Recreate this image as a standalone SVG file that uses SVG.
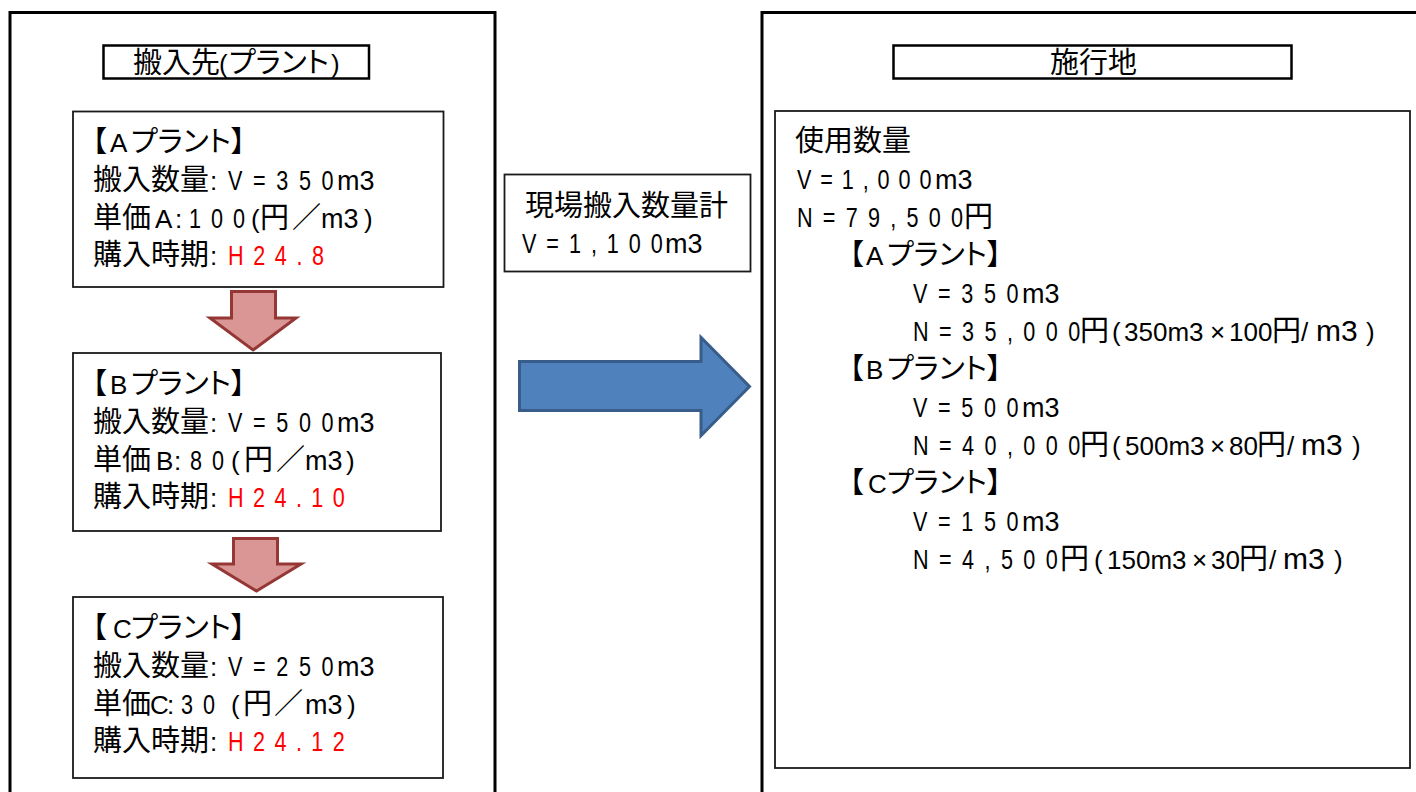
<svg xmlns="http://www.w3.org/2000/svg" width="1416" height="792" viewBox="0 0 1416 792">
<style>
.j{font-family:"Noto Sans CJK JP",sans-serif;font-size:29px;fill:#000}
.jp{font-family:"Noto Sans CJK JP",sans-serif;font-size:29px;fill:#000;font-feature-settings:"palt"}
.l{font-family:"Liberation Sans",sans-serif;font-size:27px;fill:#000}
.la{font-family:"Liberation Sans",sans-serif;font-size:26px}
.m{font-family:"Liberation Sans",sans-serif;font-size:27px;fill:#000}
.p{font-family:"Liberation Sans","Noto Sans CJK JP",sans-serif;font-size:26px;fill:#000}
.r{fill:#ff0000}
.frame{fill:#fff;stroke:#000;stroke-width:3}
.title{fill:#fff;stroke:#000;stroke-width:2.5}
.box{fill:#fff;stroke:#1a1a1a;stroke-width:1.8}
.down{fill:#d99694;stroke:#953735;stroke-width:3;stroke-linejoin:miter}
.right{fill:#4f81bd;stroke:#385d8a;stroke-width:3;stroke-linejoin:miter}
</style>
<rect width="1416" height="792" fill="#fff"/>

<g id="left-panel">
<rect class="frame" x="10" y="12.5" width="485" height="820"/>
</g>
<g id="left-title">
<rect class="title" x="103.5" y="45.5" width="265.5" height="33"/>
<text class="j" x="133" y="73">搬入先<tspan class="la" x="219">(</tspan><tspan class="jp" x="229">プラント</tspan><tspan class="la" x="331">)</tspan></text>
</g>

<g id="node-a">
<rect class="box" x="73" y="111.5" width="370.5" height="175.5"/>
<text class="jp" x="92" y="152">【<tspan class="la" x="110">A</tspan><tspan x="131">プラント】</tspan></text>
<text class="j" x="93" y="190">搬入数量<tspan class="la" x="210">:</tspan></text>
<text class="l" transform="translate(228,190) scale(0.8,1)" textLength="132">V=350</text>
<text class="m" x="337" y="190">m3</text>
<text class="j" x="93" y="228">単価<tspan class="la" x="155">A</tspan><tspan class="la" x="175">:</tspan></text>
<text class="l" transform="translate(189,228) scale(0.8,1)" textLength="70">100</text>
<text class="j" x="260" y="228"><tspan class="la" x="251">(</tspan><tspan x="260">円</tspan><tspan x="292">／</tspan></text>
<text class="m" x="321" y="228">m3<tspan class="la" x="364">)</tspan></text>
<text class="j" x="93" y="265">購入時期<tspan class="la" x="210">:</tspan></text>
<text class="l r" transform="translate(228,265) scale(0.8,1)" textLength="120">H24.8</text>
</g>

<g id="node-b">
<rect class="box" x="73" y="353" width="368" height="178"/>
<text class="jp" x="92" y="394">【<tspan class="la" x="110">B</tspan><tspan x="131">プラント】</tspan></text>
<text class="j" x="93" y="432">搬入数量<tspan class="la" x="210">:</tspan></text>
<text class="l" transform="translate(228,432) scale(0.8,1)" textLength="132">V=500</text>
<text class="m" x="337" y="432">m3</text>
<text class="j" x="93" y="470">単価<tspan class="la" x="156">B</tspan><tspan class="la" x="174">:</tspan></text>
<text class="l" transform="translate(190,470) scale(0.8,1)" textLength="42.5">80</text>
<text class="j" x="244" y="470"><tspan class="la" x="231">(</tspan><tspan x="244">円</tspan><tspan x="276">／</tspan></text>
<text class="m" x="305" y="470">m3<tspan class="la" x="346">)</tspan></text>
<text class="j" x="93" y="507">購入時期<tspan class="la" x="210">:</tspan></text>
<text class="l r" transform="translate(228,507) scale(0.8,1)" textLength="146">H24.10</text>
</g>

<g id="node-c">
<rect class="box" x="73" y="597" width="370" height="181"/>
<text class="jp" x="92" y="638">【<tspan class="la" x="113">C</tspan><tspan x="131">プラント】</tspan></text>
<text class="j" x="93" y="676">搬入数量<tspan class="la" x="210">:</tspan></text>
<text class="l" transform="translate(228,676) scale(0.8,1)" textLength="132">V=250</text>
<text class="m" x="337" y="676">m3</text>
<text class="j" x="93" y="714">単価<tspan class="la" x="150">C</tspan><tspan class="la" x="167">:</tspan></text>
<text class="l" transform="translate(181,714) scale(0.8,1)" textLength="42.5">30</text>
<text class="j" x="243" y="714"><tspan class="la" x="231">(</tspan><tspan x="243">円</tspan><tspan x="274">／</tspan></text>
<text class="m" x="305" y="714">m3<tspan class="la" x="347">)</tspan></text>
<text class="j" x="93" y="751">購入時期<tspan class="la" x="210">:</tspan></text>
<text class="l r" transform="translate(228,751) scale(0.8,1)" textLength="146">H24.12</text>
</g>

<g id="total-box">
<rect class="box" x="504.5" y="174.5" width="246" height="97" stroke-width="2"/>
<text class="j" x="525" y="216">現場搬入数量計</text>
<text class="l" transform="translate(522,253) scale(0.8,1)" textLength="176">V=1,100</text>
<text class="m" x="665" y="253" font-size="28">m3</text>
</g>

<g id="right-panel">
<rect class="frame" x="762" y="12.5" width="700" height="820"/>
</g>
<g id="right-title">
<rect class="title" x="893.5" y="45.5" width="398" height="33"/>
<text class="j" x="1050" y="73">施行地</text>
</g>

<g id="site-box">
<rect class="box" x="775" y="111" width="635" height="657"/>
<text class="j" x="795" y="151">使用数量</text>
<text class="l" transform="translate(797,189) scale(0.8,1)" textLength="168">V=1,000</text>
<text class="m" x="935" y="189" font-size="28">m3</text>
<text class="l" transform="translate(797,227) scale(0.8,1)" textLength="207.5">N=79,500</text>
<text class="j" x="964" y="227">円</text>

<text class="jp" x="849" y="265">【<tspan class="la" x="866">A</tspan><tspan x="887">プラント】</tspan></text>
<text class="l" transform="translate(913,303) scale(0.8,1)" textLength="132">V=350</text>
<text class="m" x="1022" y="303">m3</text>
<text class="l" transform="translate(913,341) scale(0.8,1)" textLength="209">N=35,000</text>
<text class="p" x="1080" y="341"><tspan class="j">円</tspan><tspan x="1112">(</tspan><tspan x="1124">350m3</tspan><tspan x="1210">×</tspan><tspan x="1229">100</tspan><tspan class="j" x="1272">円</tspan><tspan x="1301">/</tspan><tspan x="1316" font-size="30">m3</tspan><tspan x="1366">)</tspan></text>

<text class="jp" x="849" y="379">【<tspan class="la" x="866">B</tspan><tspan x="887">プラント】</tspan></text>
<text class="l" transform="translate(913,417) scale(0.8,1)" textLength="132">V=500</text>
<text class="m" x="1022" y="417">m3</text>
<text class="l" transform="translate(913,455) scale(0.8,1)" textLength="209">N=40,000</text>
<text class="p" x="1080" y="455"><tspan class="j">円</tspan><tspan x="1112">(</tspan><tspan x="1125">500m3</tspan><tspan x="1210">×</tspan><tspan x="1229">80</tspan><tspan class="j" x="1257">円</tspan><tspan x="1287">/</tspan><tspan x="1301" font-size="30">m3</tspan><tspan x="1352">)</tspan></text>

<text class="jp" x="849" y="493">【<tspan class="la" x="868">C</tspan><tspan x="887">プラント】</tspan></text>
<text class="l" transform="translate(913,531) scale(0.8,1)" textLength="132">V=150</text>
<text class="m" x="1022" y="531">m3</text>
<text class="l" transform="translate(913,569) scale(0.8,1)" textLength="181">N=4,500</text>
<text class="p" x="1060" y="569"><tspan class="j">円</tspan><tspan x="1094">(</tspan><tspan x="1107">150m3</tspan><tspan x="1192">×</tspan><tspan x="1211">30</tspan><tspan class="j" x="1239">円</tspan><tspan x="1269">/</tspan><tspan x="1283" font-size="30">m3</tspan><tspan x="1334">)</tspan></text>
</g>

<g id="connectors">
<polygon class="down" points="231.5,291.5 275.5,291.5 275.5,318 296,318 253,350 210,318 231.5,318"/>
<polygon class="down" points="233.5,538.5 277.5,538.5 277.5,564 301,564 256.5,591 212,564 233.5,564"/>
<polygon class="right" points="519.5,361.5 701,361.5 701,337.5 749.5,386.5 701,435.5 701,410.5 519.5,410.5"/>
</g>
</svg>
